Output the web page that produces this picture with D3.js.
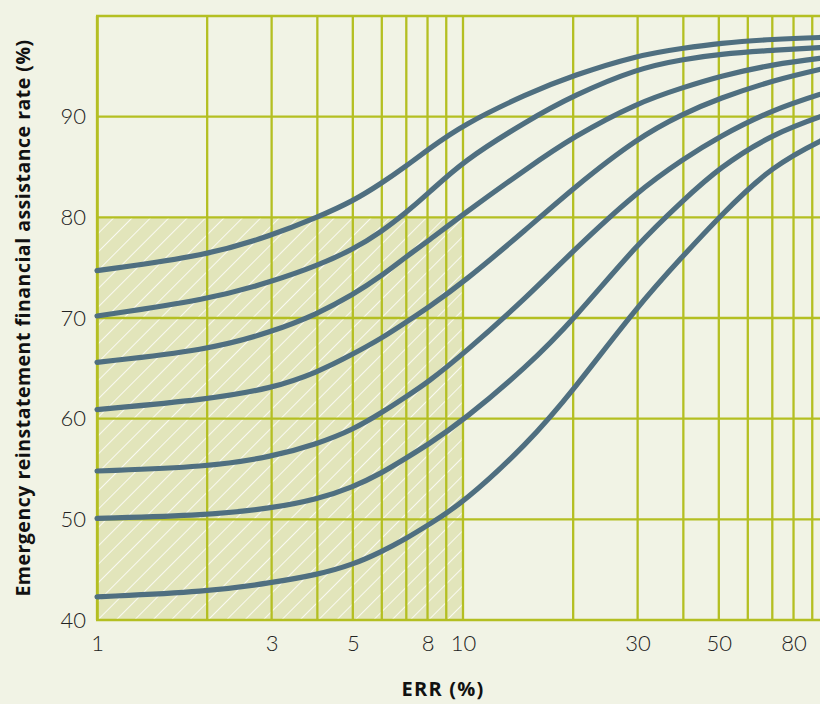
<!DOCTYPE html>
<html><head><meta charset="utf-8">
<script src="https://cdn.jsdelivr.net/npm/d3@7"></script>
<style>
html,body{margin:0;padding:0;background:#f1f3e5;overflow:hidden;}
svg{display:block;}
</style></head>
<body>
<svg id="chart" width="820" height="704"></svg>
<script>
// ---- data ----
const errValues = [1, 2, 3, 4, 5, 6, 7, 8, 10, 15, 20, 30, 40, 50, 70, 100];
const curve1 = [74.7, 76.2, 78.2, 80.0, 81.6, 83.4, 85.1, 86.7, 89.2, 92.3, 94.1, 96.1, 96.8, 97.3, 97.7, 97.9];
const curve2 = [70.2, 71.8, 73.6, 75.2, 76.8, 78.6, 80.5, 82.3, 85.6, 89.6, 92.1, 94.8, 95.7, 96.2, 96.6, 96.9];
const curve3 = [65.6, 66.8, 68.6, 70.4, 72.3, 74.2, 76.1, 77.6, 80.3, 84.9, 88.0, 91.4, 92.9, 94.0, 95.2, 95.9];
const curve4 = [60.9, 61.9, 63.0, 64.6, 66.4, 68.0, 69.6, 71.0, 73.5, 78.9, 82.9, 87.9, 90.3, 91.8, 93.6, 94.9];
const curve5 = [54.8, 55.2, 56.2, 57.5, 58.9, 60.6, 62.2, 63.6, 66.4, 72.1, 76.7, 82.6, 85.8, 88.0, 90.7, 92.5];
const curve6 = [50.1, 50.4, 51.1, 52.0, 53.2, 54.6, 56.1, 57.4, 59.8, 65.2, 69.8, 77.4, 81.7, 84.9, 88.3, 90.3];
const curve7 = [42.3, 42.8, 43.7, 44.5, 45.5, 46.8, 48.1, 49.4, 51.6, 57.5, 62.8, 71.2, 76.2, 80.0, 85.2, 88.0];
const seriesList = [curve1, curve2, curve3, curve4, curve5, curve6, curve7];
const xTickLabels = [1, 3, 5, 8, 10, 30, 50, 80];
const xGridValues = [1,2,3,4,5,6,7,8,9,10,20,30,40,50,60,70,80,90,100];
const yTickLabels = [40, 50, 60, 70, 80, 90];
const yGridValues = [50, 60, 70, 80, 90, 100];
const shadedRegion = {x0: 1, x1: 10, y0: 40, y1: 80};
const xTitle = "ERR (%)";
const yTitle = "Emergency reinstatement financial assistance rate (%)";

// ---- layout ----
const mLeft = 97, mRight = 829, mTop = 16, mBottom = 620;
const gridColor = "#b4bf22", curveColor = "#4f6f80";
const svg = d3.select("#chart");

const x = d3.scaleLog().domain([1, 100]).range([mLeft, mRight]);
const y = d3.scaleLinear().domain([40, 100]).range([mBottom, mTop]);

// hatch pattern
const defs = svg.append("defs");
const pat = defs.append("pattern").attr("id","hatch").attr("patternUnits","userSpaceOnUse")
  .attr("width", 13).attr("height", 13).attr("patternTransform","rotate(45)");
pat.append("rect").attr("width",13).attr("height",13).attr("fill","#e2e5bb");
pat.append("line").attr("x1",0).attr("y1",0).attr("x2",0).attr("y2",13)
  .attr("stroke","#ffffff").attr("stroke-width",1.6);

// shaded region
svg.append("rect")
  .attr("x", x(shadedRegion.x0)).attr("y", y(shadedRegion.y1))
  .attr("width", x(shadedRegion.x1) - x(shadedRegion.x0))
  .attr("height", y(shadedRegion.y0) - y(shadedRegion.y1))
  .attr("fill", "url(#hatch)");

// grid
const grid = svg.append("g");
grid.selectAll("line.v").data(xGridValues).join("line").attr("class","v")
  .attr("x1", d => x(d)).attr("x2", d => x(d)).attr("y1", y(100)).attr("y2", y(40))
  .attr("stroke", gridColor).attr("stroke-width", 2.3);
grid.selectAll("line.h").data(yGridValues).join("line").attr("class","h")
  .attr("y1", d => y(d)).attr("y2", d => y(d)).attr("x1", x(1) - 1).attr("x2", x(100))
  .attr("stroke", gridColor).attr("stroke-width", 2.3);

// axes (lines as frame)
const xAxis = svg.append("g").attr("transform", `translate(0,${mBottom})`)
  .call(d3.axisBottom(x).tickValues(xTickLabels).tickFormat(d3.format("d")).tickSize(0).tickPadding(15));
xAxis.select(".domain").attr("stroke", gridColor).attr("stroke-width", 2.6).attr("d", `M${mLeft - 1},0H${mRight}`);
const yAxis = svg.append("g").attr("transform", `translate(${mLeft},0)`)
  .call(d3.axisLeft(y).tickValues(yTickLabels).tickFormat(d3.format("d")).tickSize(0).tickPadding(11));
yAxis.select(".domain").attr("stroke", gridColor).attr("stroke-width", 2.6);
svg.selectAll(".tick text").attr("font-family", "Lato, 'Open Sans', sans-serif")
  .attr("font-weight", 300).attr("font-size", 22).attr("fill", "#222");

// curves
const line = d3.line().x((d, i) => x(errValues[i])).y(d => y(d)).curve(d3.curveBasis);
svg.append("g").selectAll("path").data(seriesList).join("path")
  .attr("d", d => line(d)).attr("fill", "none").attr("stroke", curveColor)
  .attr("stroke-width", 5.2).attr("stroke-linecap", "round");

// titles
svg.append("text").attr("x", 443).attr("y", 696).attr("text-anchor","middle")
  .attr("font-family","'Open Sans', Lato, sans-serif").attr("font-weight",700).attr("font-size",20)
  .attr("letter-spacing", 1.2).attr("fill","#111").text(xTitle);
svg.append("text").attr("transform","translate(30,318) rotate(-90)").attr("text-anchor","middle")
  .attr("font-family","'Open Sans', Lato, sans-serif").attr("font-weight",700).attr("font-size",19.5)
  .attr("letter-spacing", 0.5).attr("fill","#111").text(yTitle);
</script>
</body></html>
